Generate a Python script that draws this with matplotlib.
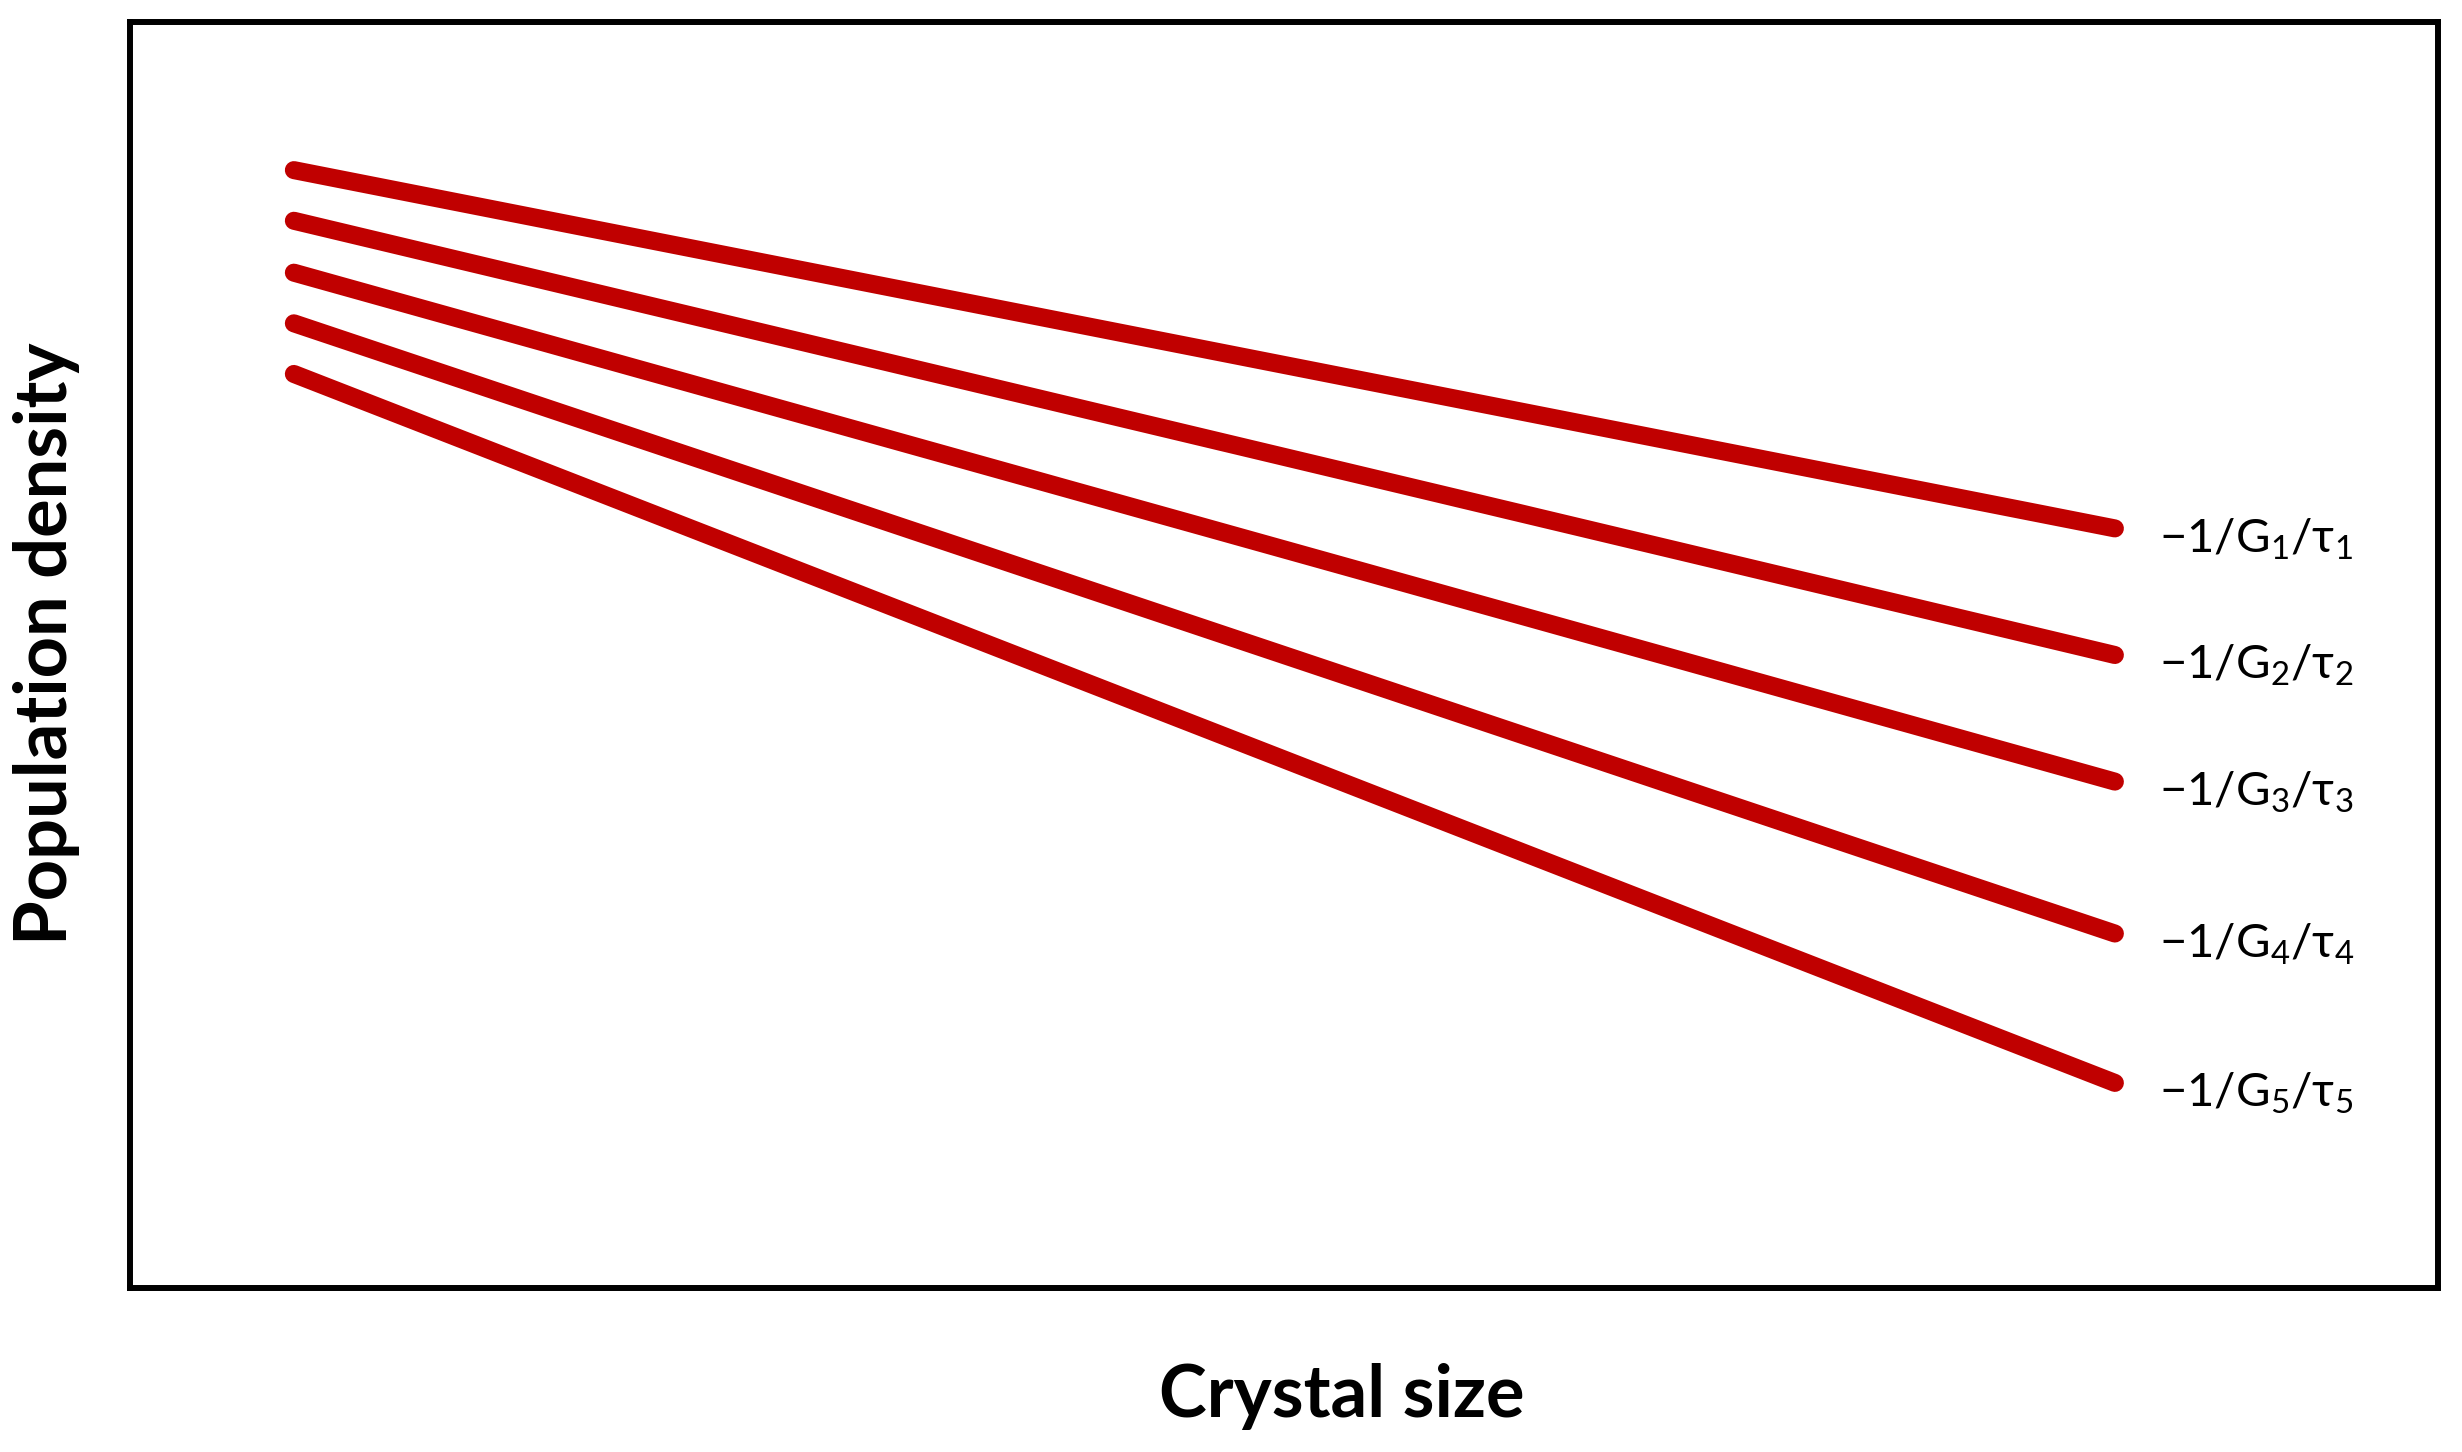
import matplotlib
matplotlib.use('Agg')
import matplotlib.pyplot as plt


# ============== data ==================

# crystal size at start / end of each line (axis runs 0..100)
size_start = [7.1, 7.1, 7.1, 7.1, 7.1]
size_end = [86.0, 86.0, 86.0, 86.0, 86.0]

# population density at start / end (axis runs 0..100)
density_start = [88.3, 84.3, 80.2, 76.2, 72.2]
density_end = [60.0, 50.0, 40.0, 28.0, 16.2]

line_labels = ['\u22121/G$_1$/\u03c4$_1$', '\u22121/G$_2$/\u03c4$_2$', '\u22121/G$_3$/\u03c4$_3$',
               '\u22121/G$_4$/\u03c4$_4$', '\u22121/G$_5$/\u03c4$_5$']

x_title = 'Crystal size'
y_title = 'Population density'


# ============== plot ==================

plt.rcParams['font.family'] = ['Lato', 'DejaVu Sans']
plt.rcParams['mathtext.fontset'] = 'custom'
plt.rcParams['mathtext.rm'] = 'Lato'
plt.rcParams['mathtext.it'] = 'Lato'
plt.rcParams['mathtext.default'] = 'regular'

W, H = 2462, 1452
fig = plt.figure(figsize=(W / 100, H / 100), dpi=100)
# frame box in pixels: left 130, right 2438, top 22, bottom 1288
ax = fig.add_axes([130 / W, 1 - 1288 / H, (2438 - 130) / W, (1288 - 22) / H])
ax.set_xlim(0, 100)
ax.set_ylim(0, 100)

red = '#C00000'
for i in range(len(line_labels)):
    ax.plot([size_start[i], size_end[i]], [density_start[i], density_end[i]],
            color=red, lw=13, solid_capstyle='round')
    ax.text(size_end[i] + 1.9, density_end[i] - 1.9, line_labels[i],
            fontsize=34, va='baseline', ha='left', color='black')

ax.set_xticks([])
ax.set_yticks([])
for s in ax.spines.values():
    s.set_linewidth(4.3)
    s.set_color('black')

fig.text(1342 / W, 1 - 1397 / H, x_title, fontsize=52, fontweight='bold',
         ha='center', va='center')
fig.text(47 / W, 1 - 644 / H, y_title, fontsize=52, fontweight='bold',
         ha='center', va='center', rotation=90)

fig.savefig('out.png', dpi=100, facecolor='white')
